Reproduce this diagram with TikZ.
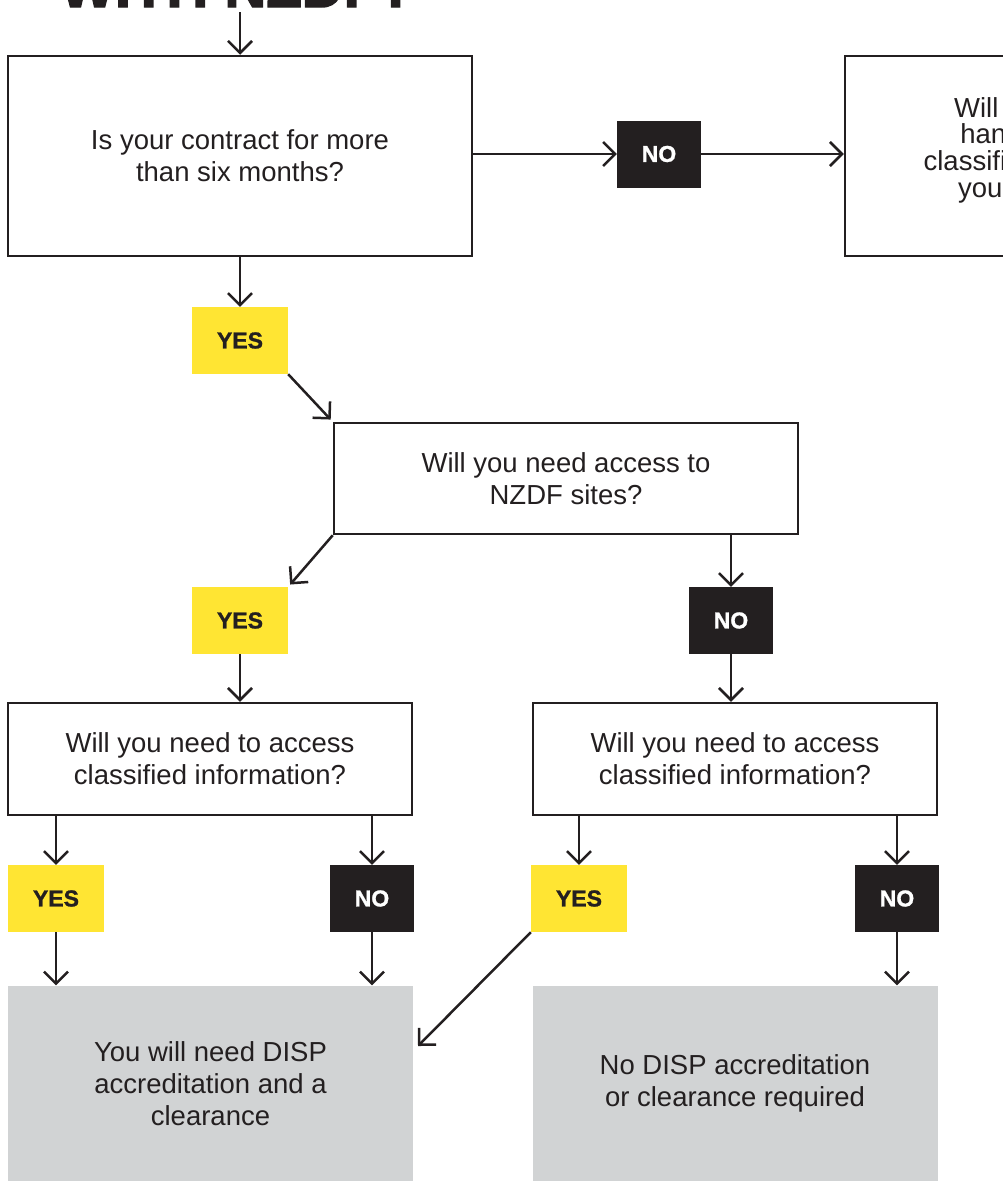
\documentclass[tikz,border=0pt]{standalone}
\usepackage{fontspec}
\setmainfont{Liberation Sans}
\newfontfamily\heavyfont[FakeBold=2.5]{Liberation Sans Bold}
\newfontfamily\tagface[FakeBold=1.2]{Liberation Sans Bold}
\usetikzlibrary{arrows.meta}
\definecolor{ink}{HTML}{231F20}
\definecolor{nzyellow}{HTML}{FFE533}
\definecolor{panelgrey}{HTML}{D1D3D4}
\newcommand\boxfont{\fontsize{27.5}{32}\selectfont}
\newcommand\sideboxfont{\fontsize{27.5}{26.7}\selectfont}
\newcommand\tagfont{\tagface\fontsize{23}{23}\selectfont}
\tikzset{
  qbox/.style = {draw=ink, line width=2.5pt, fill=white, inner sep=0pt, align=center, font=\boxfont, text=ink},
  yestag/.style = {fill=nzyellow, minimum width=96pt, minimum height=67pt, inner sep=0pt, font=\tagfont, text=ink},
  notag/.style = {fill=ink, minimum width=84pt, minimum height=67pt, inner sep=0pt, font=\tagfont, text=white},
  endbox/.style = {fill=panelgrey, minimum width=405pt, minimum height=196pt, inner sep=0pt, align=center, font=\boxfont, text=ink},
  flow/.style = {draw=ink, line width=2.5pt, -{Straight Barb[length=12pt,width=24pt]}}
}
\begin{document}
\begin{tikzpicture}[x=1pt, y=-1pt]
  \useasboundingbox (0,0) rectangle (1003,1181);
  \clip (0,0) rectangle (1003,1181);
  % heading, cut off at the top
  \node [anchor=base west, inner sep=0pt, font=\heavyfont\fontsize{58}{58}\selectfont, text=ink] (title) at (60,7) {WITH NZDF?};
  \coordinate (start) at (240,12);
  % first question
  \node [qbox, minimum width=464pt, minimum height=200pt] (contract) at (240,156) {Is your contract for more\\than six months?};
  \node [notag] (contractno) at (659,154) {NO};
  \node [qbox, minimum width=464pt, minimum height=200pt] (handle) at (1077,156) {};
  \node [align=center, font=\sideboxfont, text=ink, inner sep=0pt] (handletext) at (1052,150) {Will you need to\\handle or store\\classified information\\your premises?};
  \node [yestag] (contractyes) at (240,340.5) {YES};
  % sites
  \node [qbox, minimum width=464pt, minimum height=111pt] (sites) at (566,478.5) {Will you need access to\\NZDF sites?};
  \node [yestag] (sitesyes) at (240,620.5) {YES};
  \node [notag] (sitesno) at (731,620.5) {NO};
  % classified information
  \node [qbox, minimum width=404pt, minimum height=112pt] (infoa) at (210,759) {Will you need to access\\classified information?};
  \node [qbox, minimum width=404pt, minimum height=112pt] (infob) at (735,759) {Will you need to access\\classified information?};
  \node [yestag] (infoayes) at (56,898.5) {YES};
  \node [notag] (infoano) at (372,898.5) {NO};
  \node [yestag] (infobyes) at (579,898.5) {YES};
  \node [notag] (infobno) at (897,898.5) {NO};
  % outcomes
  \node [endbox] (needdisp) at (210.5,1083.5) {You will need DISP\\accreditation and a\\clearance};
  \node [endbox] (nodisp) at (735,1083.5) {No DISP accreditation\\or clearance required};
  \coordinate (needdispin) at (418,1046);
  % connectors
  \draw [flow] (start) -- (contract.north);
  \draw [flow] (contract.east |- contractno.west) -- (contractno.west);
  \draw [flow] (contractno.east) -- (contractno.east -| handle.west);
  \draw [flow] (contract.south) -- (contractyes.north);
  \draw [flow, shorten >=3pt] (contractyes.south east) -- (sites.north west);
  \draw [flow, shorten >=3pt] (sites.south west) -- (sitesyes.north east);
  \draw [flow] (sitesno.north |- sites.south) -- (sitesno.north);
  \draw [flow] (sitesyes.south) -- (sitesyes.south |- infoa.north);
  \draw [flow] (sitesno.south) -- (sitesno.south |- infob.north);
  \draw [flow] (infoayes.north |- infoa.south) -- (infoayes.north);
  \draw [flow] (infoano.north |- infoa.south) -- (infoano.north);
  \draw [flow] (infobyes.north |- infob.south) -- (infobyes.north);
  \draw [flow] (infobno.north |- infob.south) -- (infobno.north);
  \draw [flow] (infoayes.south) -- (infoayes.south |- needdisp.north);
  \draw [flow] (infoano.south) -- (infoano.south |- needdisp.north);
  \draw [flow] (infobyes.south west) -- (needdispin);
  \draw [flow] (infobno.south) -- (infobno.south |- nodisp.north);
\end{tikzpicture}
\end{document}
